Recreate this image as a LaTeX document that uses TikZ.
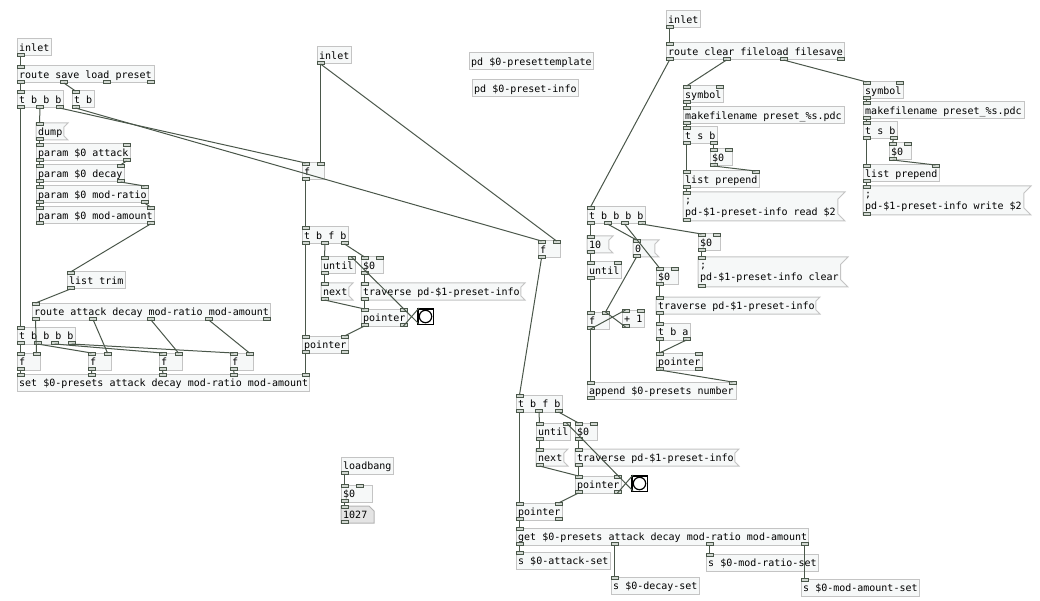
\documentclass[tikz,border=0pt]{standalone}
\usepackage{fontspec}
\newfontfamily\pdfont{DejaVu Sans Mono}
\definecolor{boxline}{HTML}{C4C4C4}
\definecolor{boxfill}{HTML}{F6F8F8}
\definecolor{wirecol}{HTML}{4A574A}
\definecolor{iofill}{HTML}{D2D8D2}
\definecolor{atomfill}{HTML}{E4E4E4}
\definecolor{atomline}{HTML}{B4B4B4}

\tikzset{
  boxshape/.style={draw=boxline, fill=boxfill, line width=1pt},
  atomshape/.style={draw=atomline, fill=atomfill, line width=1pt},
  pdtext/.style={anchor=base west, inner sep=0pt, text=black,
    font=\pdfont\fontsize{10pt}{12pt}\selectfont},
  iolet/.style={draw=wirecol, fill=iofill, line width=0.8pt},
  wire/.style={draw=wirecol, line width=1pt},
  bangbox/.style={draw=black, fill=white, line width=1.5pt, anchor=north west,
    minimum size=15.5pt, inner sep=0pt},
}

% inlets along the top edge, outlets along the bottom edge
% #1 name, #2 x, #3 y, #4 width, #5 height, #6 inlets, #7 outlets
\newcommand{\iolets}[7]{%
  \ifnum#6>0
    \foreach \k in {1,...,#6}{%
      \ifnum#6=1 \pgfmathsetmacro\ix{#2}\else\pgfmathsetmacro\ix{#2+(\k-1)*(#4-7)/(#6-1)}\fi
      \draw[iolet] (\ix,#3-0.5) rectangle ++(7,3);
      \coordinate (#1-i\k) at (\ix+3.5,#3);
    }%
  \fi
  \ifnum#7>0
    \foreach \k in {1,...,#7}{%
      \ifnum#7=1 \pgfmathsetmacro\ix{#2}\else\pgfmathsetmacro\ix{#2+(\k-1)*(#4-7)/(#7-1)}\fi
      \draw[iolet] (\ix,#3+#5+0.5) rectangle ++(7,-3);
      \coordinate (#1-o\k) at (\ix+3.5,#3+#5);
    }%
  \fi
}

% object box: name, x, y, width, inlets, outlets, text
\newcommand{\pdobj}[7]{%
  \draw[boxshape] (#2,#3) rectangle ++(#4,17);
  \node[pdtext] (#1) at (#2+2,#3+12.5) {#7};
  \iolets{#1}{#2}{#3}{#4}{17}{#5}{#6}%
}

% message box (flag on the right): name, x, y, width, height, text
\newcommand{\pdmsg}[6]{%
  \pgfmathsetmacro\pdc{#5/4}%
  \draw[boxshape] (#2,#3) -- ++(#4,0) -- ++(-\pdc,\pdc) -- ++(0,#5-2*\pdc)
     -- ++(\pdc,\pdc) -- ++(-#4,0) -- cycle;
  \node[pdtext] (#1) at (#2+2,#3+12.5) {#6};
  \iolets{#1}{#2}{#3}{#4}{#5}{1}{1}%
}

% two-line message box: name, x, y, width, height, line 1, line 2
\newcommand{\pdmsgtwo}[7]{%
  \pgfmathsetmacro\pdc{#5/4}%
  \draw[boxshape] (#2,#3) -- ++(#4,0) -- ++(-\pdc,\pdc) -- ++(0,#5-2*\pdc)
     -- ++(\pdc,\pdc) -- ++(-#4,0) -- cycle;
  \node[pdtext] (#1) at (#2+2,#3+11.5) {#6};
  \node[pdtext] (#1-b) at (#2+2,#3+23.5) {#7};
  \iolets{#1}{#2}{#3}{#4}{#5}{1}{1}%
}

% number atom with the clipped corner: name, x, y, width, text
\newcommand{\pdatom}[5]{%
  \draw[atomshape] (#2,#3) -- ++(#4-5,0) -- ++(5,5) -- ++(0,12) -- ++(-#4,0) -- cycle;
  \node[pdtext] (#1) at (#2+2,#3+12.5) {#5};
  \iolets{#1}{#2}{#3}{#4}{17}{1}{1}%
}

% bang: name, x, y
\newcommand{\pdbang}[3]{%
  \node[bangbox] (#1) at (#2,#3) {};
  \draw[black, line width=1.2pt] (#1.center) circle (6.2pt);
  \coordinate (#1-i1) at (#2+2,#3);
  \coordinate (#1-o1) at (#2+2,#3+16);
}

\newcommand{\wire}[2]{\draw[wire] (#1) -- (#2);}

\begin{document}
\begin{tikzpicture}[x=1pt, y=-1pt]
\fill[white] (0,0) rectangle (1040,601);
\useasboundingbox (0,0) rectangle (1040,601);

% ---- storing the parameters ----
\pdobj{Lin}{17}{39}{34}{0}{1}{inlet}
\pdobj{Lroute}{17}{66}{137}{1}{4}{route save load preset}
\pdobj{Ltbbb}{17}{91}{46}{1}{3}{t b b b}
\pdobj{Ltb}{72}{91}{22}{1}{1}{t b}
\pdmsg{Ldump}{36}{123}{32}{17}{dump}
\pdobj{Lpa}{36}{144}{94}{2}{2}{param \$0 attack}
\pdobj{Lpd}{36}{165}{88}{2}{2}{param \$0 decay}
\pdobj{Lpr}{36}{186}{112}{2}{2}{param \$0 mod-ratio}
\pdobj{Lpm}{36}{207}{118}{2}{2}{param \$0 mod-amount}
\pdobj{Ltrim}{67}{272}{58}{1}{1}{list trim}
\pdobj{Lroutep}{32}{303}{238}{1}{5}{route attack decay mod-ratio mod-amount}
\pdobj{Ltbbbb}{17}{327}{58}{1}{4}{t b b b b}
\pdobj{Lfa}{17}{353}{23}{2}{1}{f}
\pdobj{Lfb}{88}{353}{23}{2}{1}{f}
\pdobj{Lfc}{159}{353}{23}{2}{1}{f}
\pdobj{Lfd}{230}{353}{23}{2}{1}{f}
\pdobj{Lset}{17}{374}{292}{5}{0}{set \$0-presets attack decay mod-ratio mod-amount}

% ---- preset selection ----
\pdobj{Min}{317}{47}{34}{0}{1}{inlet}
\pdobj{Mf}{302}{163}{22}{2}{1}{f}
\pdobj{Mtbfb}{302}{227}{46}{1}{3}{t b f b}
\pdobj{Muntil}{321}{257}{34}{2}{1}{until}
\pdobj{Mz}{361}{257}{22}{2}{1}{\$0}
\pdmsg{Mnext}{321}{283}{32}{17}{next}
\pdmsg{Mtrav}{361}{283}{164}{17}{traverse pd-\$1-preset-info}
\pdobj{Mptr}{361}{309}{46}{2}{2}{pointer}
\pdbang{Mbng}{417}{308}
\pdobj{Mptrb}{302}{336}{46}{2}{2}{pointer}
\pdobj{MRf}{538}{241}{22}{2}{1}{f}

\pdobj{Ptpl}{469}{53}{124}{0}{0}{pd \$0-presettemplate}
\pdobj{Pinfo}{472}{80}{106}{0}{0}{pd \$0-preset-info}

% ---- file handling ----
\pdobj{Rin}{666}{11}{34}{0}{1}{inlet}
\pdobj{Rroute}{666}{43}{178}{1}{4}{route clear fileload filesave}
\pdobj{Rsa}{683}{86}{40}{2}{1}{symbol}
\pdobj{Rma}{683}{107}{161}{1}{1}{makefilename preset\_\%s.pdc}
\pdobj{Rta}{683}{127}{34}{1}{2}{t s b}
\pdobj{Rza}{710}{149}{22}{2}{1}{\$0}
\pdobj{Rla}{683}{171}{76}{2}{1}{list prepend}
\pdmsgtwo{Rread}{683}{192}{162}{29}{;}{pd-\$1-preset-info read \$2}
\pdobj{Rsb}{863}{82}{40}{2}{1}{symbol}
\pdobj{Rmb}{863}{102}{161}{1}{1}{makefilename preset\_\%s.pdc}
\pdobj{Rtb}{863}{122}{34}{1}{2}{t s b}
\pdobj{Rzb}{889}{143}{22}{2}{1}{\$0}
\pdobj{Rlb}{863}{165}{76}{2}{1}{list prepend}
\pdmsgtwo{Rwrite}{863}{186}{168}{29}{;}{pd-\$1-preset-info write \$2}

% ---- clearing and counting ----
\pdobj{Rtbbbb}{587}{207}{58}{1}{4}{t b b b b}
\pdmsg{Rten}{587}{236}{26}{17}{10}
\pdmsg{Rzero}{633}{240}{26}{17}{0}
\pdobj{Rzc}{698}{234}{22}{2}{1}{\$0}
\pdmsgtwo{Rclear}{698}{257}{150}{30}{;}{pd-\$1-preset-info clear}
\pdobj{Runtil}{587}{262}{34}{2}{1}{until}
\pdobj{Rzt}{656}{268}{22}{2}{1}{\$0}
\pdmsg{Rtrav}{656}{297}{164}{17}{traverse pd-\$1-preset-info}
\pdobj{Rf}{587}{312}{22}{2}{1}{f}
\pdobj{Rplus}{622}{310}{22}{2}{1}{+ 1}
\pdobj{Rtba}{656}{323}{34}{1}{2}{t b a}
\pdobj{Rptr}{656}{353}{46}{2}{2}{pointer}
\pdobj{Rapp}{587}{382}{149}{2}{1}{append \$0-presets number}

% ---- recalling ----
\pdobj{Btbfb}{516}{395}{46}{1}{3}{t b f b}
\pdobj{Buntil}{536}{423}{34}{2}{1}{until}
\pdobj{Bz}{575}{423}{22}{2}{1}{\$0}
\pdmsg{Bnext}{536}{449}{32}{17}{next}
\pdmsg{Btrav}{575}{449}{164}{17}{traverse pd-\$1-preset-info}
\pdobj{Bptr}{575}{476}{46}{2}{2}{pointer}
\pdbang{Bbng}{631}{475}
\pdobj{Bptrb}{516}{503}{46}{2}{2}{pointer}
\pdobj{Bget}{516}{528}{292}{1}{4}{get \$0-presets attack decay mod-ratio mod-amount}
\pdobj{Bsa}{516}{552}{94}{1}{0}{s \$0-attack-set}
\pdobj{Bsd}{611}{577}{88}{1}{0}{s \$0-decay-set}
\pdobj{Bsr}{706}{554}{112}{1}{0}{s \$0-mod-ratio-set}
\pdobj{Bsm}{801}{579}{118}{1}{0}{s \$0-mod-amount-set}

% ---- loadbang ----
\pdobj{LB}{341}{457}{52}{0}{1}{loadbang}
\draw[boxshape] (341,485) rectangle ++(31,17);
\node[pdtext] (LBz) at (343,497.5) {\$0};
\iolets{LBz}{341}{485}{22}{17}{2}{1}
\pdatom{LBn}{341}{506}{33}{1027}

% ---- connections ----
\wire{Lin-o1}{Lroute-i1}
\wire{Lroute-o1}{Ltbbb-i1}
\wire{Lroute-o2}{Ltb-i1}
\wire{Ltbbb-o1}{Ltbbbb-i1}
\wire{Ltbbb-o2}{Ldump-i1}
\wire{Ltbbb-o3}{Mf-i1}
\wire{Ltb-o1}{MRf-i1}
\wire{Ldump-o1}{Lpa-i1}
\wire{Lpa-o1}{Lpd-i1}
\wire{Lpa-o2}{Lpd-i2}
\wire{Lpd-o1}{Lpr-i1}
\wire{Lpd-o2}{Lpr-i2}
\wire{Lpr-o1}{Lpm-i1}
\wire{Lpr-o2}{Lpm-i2}
\wire{Lpm-o2}{Ltrim-i1}
\wire{Ltrim-o1}{Lroutep-i1}
\wire{Lroutep-o1}{Lfa-i2}
\wire{Lroutep-o2}{Lfb-i2}
\wire{Lroutep-o3}{Lfc-i2}
\wire{Lroutep-o4}{Lfd-i2}
\wire{Ltbbbb-o1}{Lfa-i1}
\wire{Ltbbbb-o2}{Lfb-i1}
\wire{Ltbbbb-o3}{Lfc-i1}
\wire{Ltbbbb-o4}{Lfd-i1}
\wire{Lfa-o1}{Lset-i1}
\wire{Lfb-o1}{Lset-i2}
\wire{Lfc-o1}{Lset-i3}
\wire{Lfd-o1}{Lset-i4}
\wire{Mptrb-o1}{Lset-i5}

\wire{Min-o1}{Mf-i2}
\wire{Min-o1}{MRf-i2}
\wire{Mf-o1}{Mtbfb-i1}
\wire{Mtbfb-o1}{Mptrb-i1}
\wire{Mtbfb-o2}{Muntil-i1}
\wire{Mtbfb-o3}{Mz-i1}
\wire{Muntil-o1}{Mnext-i1}
\wire{Mnext-o1}{Mptr-i1}
\wire{Mz-o1}{Mtrav-i1}
\wire{Mtrav-o1}{Mptr-i1}
\wire{Mptr-o1}{Mptrb-i2}
\wire{Mptr-o2}{Mbng-i1}
\wire{Mbng-o1}{Muntil-i2}
\wire{MRf-o1}{Btbfb-i1}

\wire{Btbfb-o1}{Bptrb-i1}
\wire{Btbfb-o2}{Buntil-i1}
\wire{Btbfb-o3}{Bz-i1}
\wire{Buntil-o1}{Bnext-i1}
\wire{Bnext-o1}{Bptr-i1}
\wire{Bz-o1}{Btrav-i1}
\wire{Btrav-o1}{Bptr-i1}
\wire{Bptr-o1}{Bptrb-i2}
\wire{Bptr-o2}{Bbng-i1}
\wire{Bbng-o1}{Buntil-i2}
\wire{Bptrb-o1}{Bget-i1}
\wire{Bget-o1}{Bsa-i1}
\wire{Bget-o2}{Bsd-i1}
\wire{Bget-o3}{Bsr-i1}
\wire{Bget-o4}{Bsm-i1}

\wire{Rin-o1}{Rroute-i1}
\wire{Rroute-o1}{Rtbbbb-i1}
\wire{Rroute-o2}{Rsa-i1}
\wire{Rroute-o3}{Rsb-i1}
\wire{Rsa-o1}{Rma-i1}
\wire{Rma-o1}{Rta-i1}
\wire{Rta-o1}{Rla-i1}
\wire{Rta-o2}{Rza-i1}
\wire{Rza-o1}{Rla-i2}
\wire{Rla-o1}{Rread-i1}
\wire{Rsb-o1}{Rmb-i1}
\wire{Rmb-o1}{Rtb-i1}
\wire{Rtb-o1}{Rlb-i1}
\wire{Rtb-o2}{Rzb-i1}
\wire{Rzb-o1}{Rlb-i2}
\wire{Rlb-o1}{Rwrite-i1}

\wire{Rtbbbb-o1}{Rten-i1}
\wire{Rtbbbb-o2}{Rzero-i1}
\wire{Rtbbbb-o3}{Rzt-i1}
\wire{Rtbbbb-o4}{Rzc-i1}
\wire{Rzc-o1}{Rclear-i1}
\wire{Rten-o1}{Runtil-i1}
\wire{Runtil-o1}{Rf-i1}
\wire{Rzero-o1}{Rf-i2}
\wire{Rf-o1}{Rplus-i1}
\wire{Rplus-o1}{Rf-i2}
\wire{Rf-o1}{Rapp-i1}
\wire{Rzt-o1}{Rtrav-i1}
\wire{Rtrav-o1}{Rtba-i1}
\wire{Rtba-o1}{Rptr-i1}
\wire{Rtba-o2}{Rptr-i1}
\wire{Rptr-o1}{Rapp-i2}

\wire{LB-o1}{LBz-i1}
\wire{LBz-o1}{LBn-i1}
\end{tikzpicture}
\end{document}
